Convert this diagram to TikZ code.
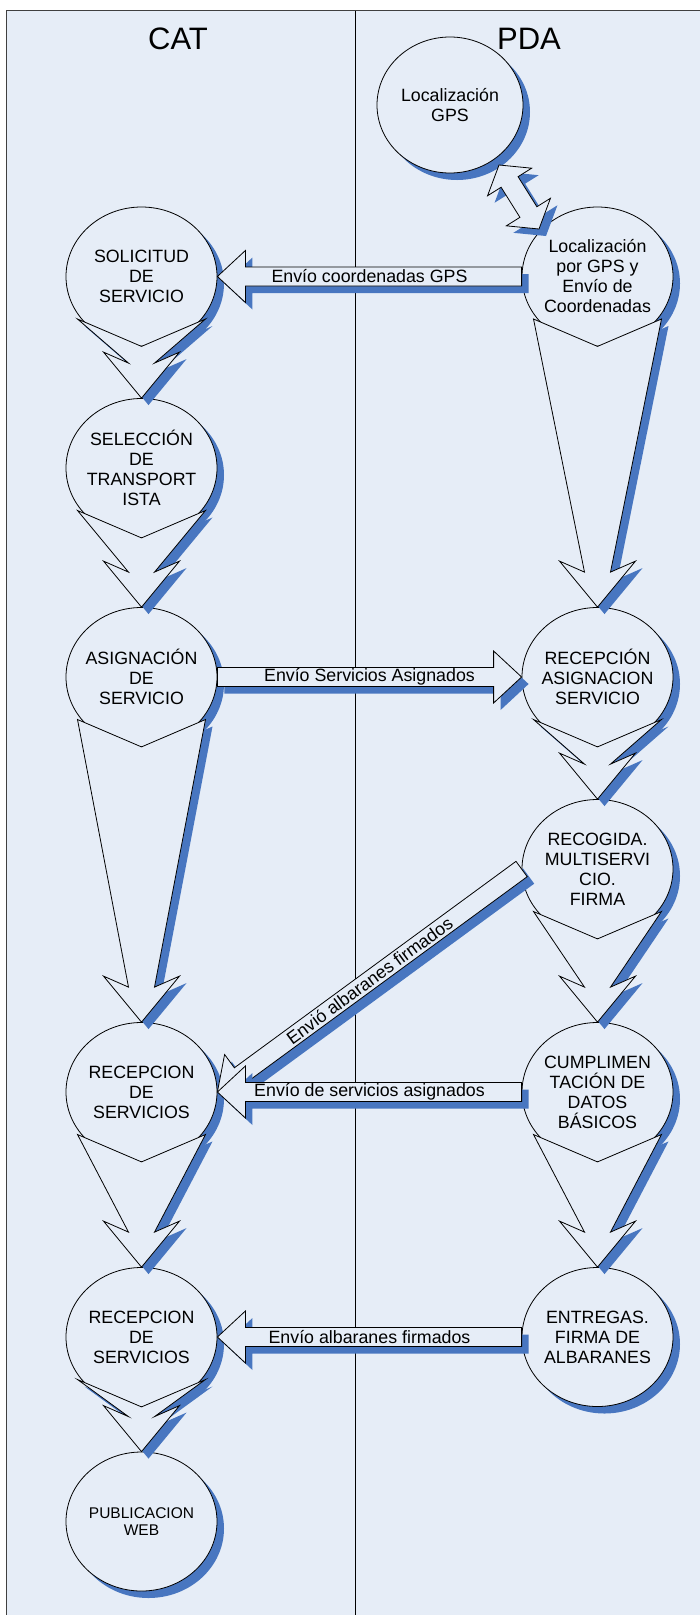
\documentclass[tikz,border=0pt]{standalone}
\usepackage{fontspec}
\setmainfont{Liberation Sans}
\usetikzlibrary{calc,shapes.geometric,shadows}
\definecolor{lanefill}{RGB}{230,237,247}
\definecolor{shadowblue}{RGB}{72,118,192}
\tikzset{
  blueshadow/.style = {drop shadow={shadow xshift=7pt, shadow yshift=-7pt,
                       fill=shadowblue, opacity=1}},
  task/.style       = {shape=ellipse, draw, line width=0.8pt, fill=lanefill,
                       minimum width=151pt, minimum height=139pt,
                       inner xsep=-8pt, inner ysep=0pt, align=center,
                       font=\fontsize{17.8}{20}\selectfont, blueshadow},
  gpstask/.style    = {task, minimum width=146pt, minimum height=136pt},
  webtask/.style    = {task, font=\fontsize{15.5}{17.5}\selectfont},
  lane/.style       = {font=\fontsize{31}{31}\selectfont},
  blockarrow/.style = {draw, line width=0.8pt, fill=lanefill, blueshadow},
  msg/.style        = {font=\fontsize{17.8}{20}\selectfont, inner sep=0pt}
}
% chevron arrow from one task down to the next
\newcommand{\flowarrow}[2]{%
  \filldraw[blockarrow] (#1.south)
    -- ($(#1.center)+(64,42.5)$) -- ($(#2.north)+(13,-35)$)
    -- ($(#2.north)+(38,-46)$) -- (#2.north)
    -- ($(#2.north)+(-38,-46)$) -- ($(#2.north)+(-13,-35)$)
    -- ($(#1.center)+(-64,42.5)$) -- cycle;
}
% block arrow with a message written in its shaft
\newcommand{\sendarrow}[3]{%
  \coordinate (hb) at ($(#2)!28pt!(#1)$);
  \filldraw[blockarrow] ($(#1)!9.5pt!90:(#2)$)
    -- ($(hb)!9.5pt!90:(#2)$) -- ($(hb)!26pt!90:(#2)$) -- (#2)
    -- ($(hb)!26pt!-90:(#2)$) -- ($(hb)!9.5pt!-90:(#2)$)
    -- ($(#1)!9.5pt!-90:(#2)$) -- cycle;
  \path (#1) -- (#2) node[msg, midway, sloped] {#3};
}

\begin{document}
\begin{tikzpicture}[x=1pt, y=-1pt]
  \useasboundingbox (0,0) rectangle (700,1615);
  \clip (0,0) rectangle (700,1615);

  % swimlanes
  \draw[fill=lanefill, draw=black!75, line width=0.8pt] (6.5,10.5) rectangle (704,1625);
  \draw[line width=0.8pt] (355,10.5) -- (355,1625);
  \node[lane] (cat) at (178,39) {CAT};
  \node[lane] (pda) at (529,39) {PDA};

  % tasks
  \node[gpstask] (gps)         at (450,105)     {Localización\\GPS};
  \node[task]    (porgps)      at (597.5,276.5) {Localización\\por GPS y\\Envío de\\Coordenadas};
  \node[task]    (solicitud)   at (141.5,276.5) {SOLICITUD\\DE\\SERVICIO};
  \node[task]    (seleccion)   at (141.5,468)   {SELECCIÓN\\DE\\TRANSPORT\\ISTA};
  \node[task]    (asignacion)  at (141.5,677)   {ASIGNACIÓN\\DE\\SERVICIO};
  \node[task]    (recasig)     at (597.5,677)   {RECEPCIÓN\\ASIGNACION\\SERVICIO};
  \node[task]    (recogida)    at (597.5,869)   {RECOGIDA.\\MULTISERVI\\CIO.\\FIRMA};
  \node[task]    (recserv)     at (141.5,1092)  {RECEPCION\\DE\\SERVICIOS};
  \node[task]    (cumpl)       at (597.5,1092)  {CUMPLIMEN\\TACIÓN DE\\DATOS\\BÁSICOS};
  \node[task]    (recservb)    at (141.5,1337)  {RECEPCION\\DE\\SERVICIOS};
  \node[task]    (entregas)    at (597.5,1337)  {ENTREGAS.\\FIRMA DE\\ALBARANES};
  \node[webtask] (publicacion) at (141.5,1521.5) {PUBLICACION\\WEB};

  % flow inside each lane
  \flowarrow{solicitud}{seleccion}
  \flowarrow{seleccion}{asignacion}
  \flowarrow{asignacion}{recserv}
  \flowarrow{recserv}{recservb}
  \flowarrow{recservb}{publicacion}
  \flowarrow{porgps}{recasig}
  \flowarrow{recasig}{recogida}
  \flowarrow{recogida}{cumpl}
  \flowarrow{cumpl}{entregas}

  % gps link
  \coordinate (gA) at ($(gps.center)+(49,60)$);
  \coordinate (gB) at ($(porgps.center)+(-58.5,-47.5)$);
  \coordinate (ha) at ($(gA)!20pt!(gB)$);
  \coordinate (hc) at ($(gB)!20pt!(gA)$);
  \filldraw[blockarrow] (gA)
    -- ($(ha)!26pt!90:(gB)$) -- ($(ha)!10pt!90:(gB)$)
    -- ($(hc)!10pt!-90:(gA)$) -- ($(hc)!26pt!-90:(gA)$) -- (gB)
    -- ($(hc)!26pt!90:(gA)$) -- ($(hc)!10pt!90:(gA)$)
    -- ($(ha)!10pt!-90:(gB)$) -- ($(ha)!26pt!-90:(gB)$) -- cycle;

  % messages between lanes
  \sendarrow{porgps.west}{solicitud.east}{Envío coordenadas GPS}
  \sendarrow{asignacion.east}{recasig.west}{Envío Servicios Asignados}
  \sendarrow{recogida.west}{recserv.east}{Envió albaranes firmados}
  \sendarrow{cumpl.west}{recserv.east}{Envío de servicios asignados}
  \sendarrow{entregas.west}{recservb.east}{Envío albaranes firmados}
\end{tikzpicture}
\end{document}
